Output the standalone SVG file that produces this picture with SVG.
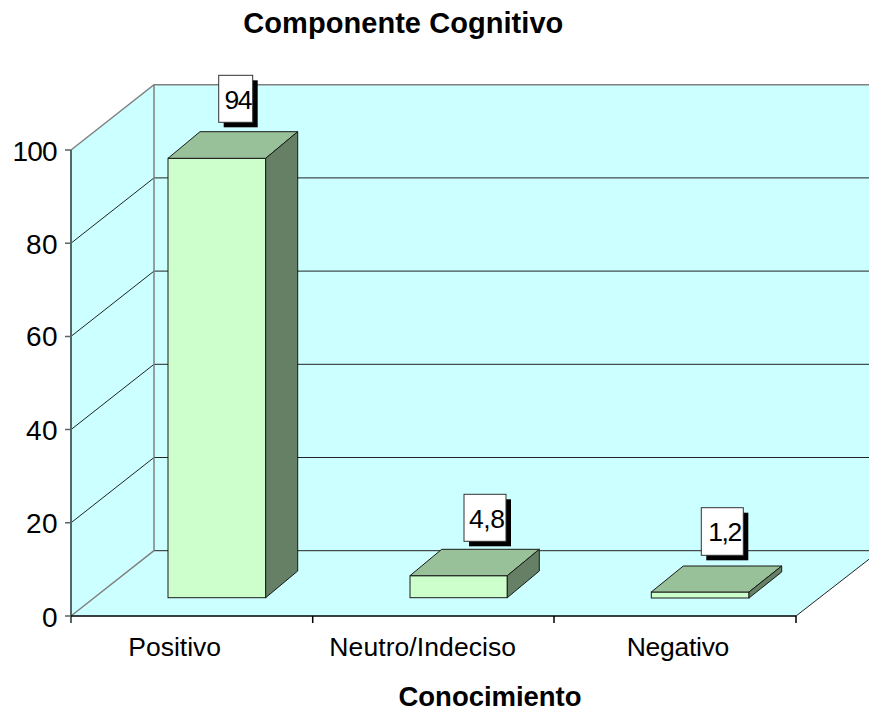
<svg xmlns="http://www.w3.org/2000/svg" width="869" height="711" viewBox="0 0 869 711">
<style>
.t{font-family:"Liberation Sans",Arial,sans-serif;fill:#000}
.num{font-size:28px;text-anchor:end}
.cat{font-size:26.5px;text-anchor:middle}
.bold{font-weight:bold;text-anchor:middle}
.wall{fill:#CCFFFF;stroke:none}
.grid{stroke:#222;stroke-width:1;fill:none}
.edge{stroke:#808080;stroke-width:1.5;fill:none}
.front{fill:#CCFFCC;stroke:#1a1a1a;stroke-width:1}
.top{fill:#99C199;stroke:#1a1a1a;stroke-width:1}
.side{fill:#668066;stroke:#1a1a1a;stroke-width:1}
.lbl{fill:#fff;stroke:#333;stroke-width:1}
.shadow{fill:#000}
.lt{font-size:26.5px;text-anchor:middle}
</style>
<rect width="869" height="711" fill="#fff"/>
<g id="plot-area">
<polygon class="wall" points="154,84.7 869,84.7 869,550.7 154,550.7"/>
<polygon class="wall" points="71,150 154,84.7 154,550.7 71,616"/>
<polygon class="wall" points="71,616 154,550.7 880,550.7 796,616"/>
</g>
<g id="connectors">
<g id="gridlines">
<path class="grid" d="M71,522.8L154,457.5H869M71,429.6L154,364.3H869M71,336.4L154,271.1H869M71,243.2L154,177.9H869"/>
<path class="grid" d="M154,550.7H869" stroke="#555"/>
<path class="edge" d="M71,150L154,84.7H869M154,84.7V550.7M71,616L154,550.7"/>
<path d="M796,616L880,550.7" stroke="#222" stroke-width="1" fill="none"/>
</g>
<g id="axes">
<path d="M71,150V623" stroke="#556666" stroke-width="2" fill="none"/>
<path d="M65,150H71M65,243.2H71M65,336.4H71M65,429.6H71M65,522.8H71M65,616H71" stroke="#556666" stroke-width="1.5" fill="none"/>
<path d="M71,616H796M312.7,616V623M554,616V623M796,616V623" stroke="#000" stroke-width="1.5" fill="none"/>
</g>
</g>
<g id="bar-positivo">
<rect class="front" x="168" y="158.3" width="97.7" height="439.4"/>
<polygon class="top" points="168,158.3 200,131.7 297.7,131.7 265.7,158.3"/>
<polygon class="side" points="265.7,158.3 297.7,131.7 297.7,571 265.7,597.7"/>
</g>
<g id="bar-neutro">
<rect class="front" x="410" y="575.7" width="97.3" height="22"/>
<polygon class="top" points="410,575.7 441.7,549.3 539.3,549.3 507.3,575.7"/>
<polygon class="side" points="507.3,575.7 539.3,549.3 539.3,571 507.3,597.7"/>
</g>
<g id="bar-negativo">
<rect class="front" x="651.3" y="592" width="97.7" height="6"/>
<polygon class="top" points="651.3,592 683.3,566 781.7,566 749,592"/>
<polygon class="side" points="749,592 781.7,566 781.7,572 749,598"/>
</g>
<g id="label-94">
<rect class="shadow" x="223.7" y="80.3" width="34" height="47"/>
<rect class="lbl" x="218.7" y="75.3" width="34" height="47"/>
<text class="t lt" x="238.5" y="109" textLength="28">94</text>
</g>
<g id="label-4-8">
<rect class="shadow" x="469" y="499.3" width="42" height="47"/>
<rect class="lbl" x="464" y="494.3" width="42" height="47"/>
<text class="t lt" x="487" y="527.7" textLength="36">4,8</text>
</g>
<g id="label-1-2">
<rect class="shadow" x="706.3" y="512.7" width="42" height="47.6"/>
<rect class="lbl" x="701.3" y="507.7" width="42" height="47.6"/>
<text class="t lt" x="725.3" y="541" textLength="34">1,2</text>
</g>
<g id="y-axis-labels">
<text class="t num" x="57.5" y="160.7" textLength="45">100</text>
<text class="t num" x="57.5" y="254" textLength="31.5">80</text>
<text class="t num" x="57.5" y="345.7" textLength="31.5">60</text>
<text class="t num" x="57.5" y="439.7" textLength="31.5">40</text>
<text class="t num" x="57.5" y="533.4" textLength="31.5">20</text>
<text class="t num" x="57.5" y="626.7">0</text>
</g>
<g id="x-axis-labels">
<text class="t cat" x="174.7" y="655.7" textLength="92.7">Positivo</text>
<text class="t cat" x="422.7" y="655.7" textLength="186.7">Neutro/Indeciso</text>
<text class="t cat" x="678" y="655.7" textLength="102.7">Negativo</text>
</g>
<g id="titles">
<text class="t bold" x="403.3" y="33.3" font-size="29" textLength="320">Componente Cognitivo</text>
<text class="t bold" x="490" y="705.7" font-size="27.5" textLength="183">Conocimiento</text>
</g>
</svg>
